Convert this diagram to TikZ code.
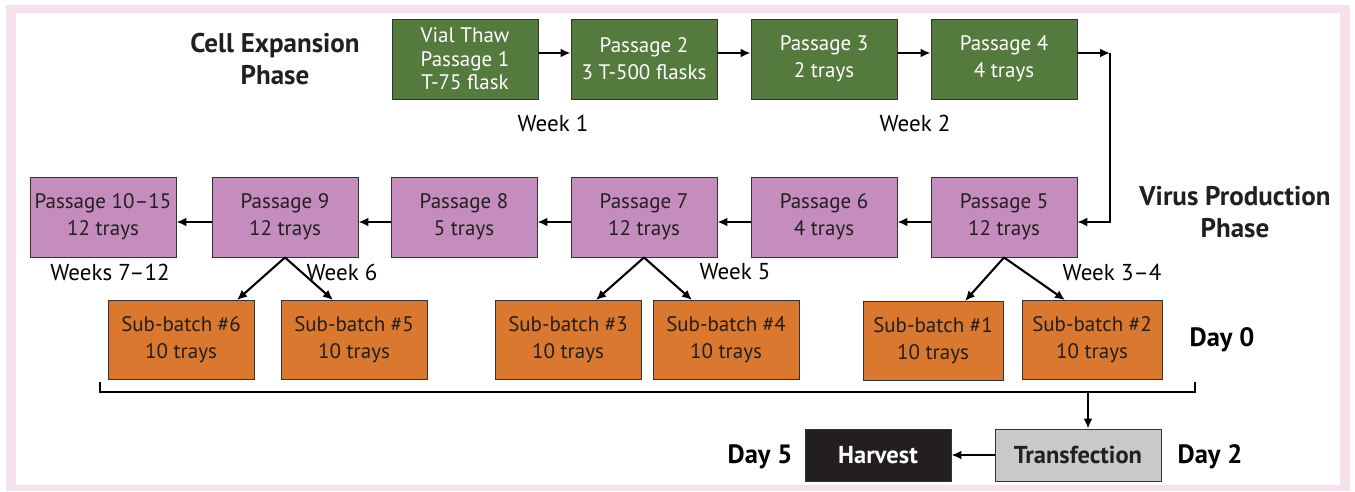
\documentclass[tikz,border=0pt]{standalone}
\usepackage{fontspec}
\setmainfont{PT Sans}
\usetikzlibrary{positioning,arrows.meta}

\definecolor{framepink}{HTML}{F5E1EE}
\definecolor{expgreen}{HTML}{557A3D}
\definecolor{prodpurple}{HTML}{C48DBD}
\definecolor{suborange}{HTML}{D9782E}
\definecolor{transgray}{HTML}{C8C9CB}
\definecolor{harvblack}{HTML}{231F20}

\tikzset{
  box/.style={draw=black!80, line width=0.9pt, inner sep=0pt, align=center,
    minimum width=146pt, minimum height=80pt, text=harvblack,
    font=\fontsize{21}{27}\selectfont},
  greenbox/.style={box, fill=expgreen, text=white},
  purplebox/.style={box, fill=prodpurple},
  orangebox/.style={box, fill=suborange, minimum height=79pt},
  endbox/.style={box, minimum height=52pt, font=\fontsize{24.5}{28}\selectfont\bfseries},
  phase/.style={align=center, text=harvblack, font=\fontsize{27}{32}\selectfont\bfseries},
  weeklabel/.style={text=black, font=\fontsize{23}{26}\selectfont},
  daylabel/.style={text=black, font=\fontsize{26.5}{30}\selectfont\bfseries},
  arr/.style={line width=2.1pt, -{Latex[length=10pt,width=9pt]}},
}

\begin{document}
\begin{tikzpicture}[x=1pt,y=-1pt]
\useasboundingbox (0,0) rectangle (1355,491);
% frame
\fill[framepink] (6,5) rectangle (1350,491);
\fill[white] (16,13) rectangle (1340,485);

% cell expansion phase
\node[phase] (expphase) at (275,59) {Cell Expansion\\Phase};
\node[greenbox, font=\fontsize{21}{23.5}\selectfont] (g1) at (465,59) {Vial Thaw\\Passage 1\\T-75 flask};
\node[greenbox] (g2) at (644,59) {Passage 2\\3 T-500 flasks};
\node[greenbox] (g3) at (824,59) {Passage 3\\2 trays};
\node[greenbox] (g4) at (1004,59) {Passage 4\\4 trays};
\node[weeklabel] (week1) at (553,123) {Week 1};
\node[weeklabel] (week2) at (915,123) {Week 2};

\draw[arr] ([yshift=6pt]g1.east) -- ([yshift=6pt]g2.west);
\draw[arr] ([yshift=6pt]g2.east) -- ([yshift=6pt]g3.west);
\draw[arr] ([yshift=6pt]g3.east) -- ([yshift=6pt]g4.west);

% virus production phase
\node[phase] (virphase) at (1235,212) {Virus Production\\Phase};
\node[purplebox] (p5) at (1004,217) {Passage 5\\12 trays};
\node[purplebox] (p6) at (824,217) {Passage 6\\4 trays};
\node[purplebox] (p7) at (644,217) {Passage 7\\12 trays};
\node[purplebox] (p8) at (464,217) {Passage 8\\5 trays};
\node[purplebox] (p9) at (285,217) {Passage 9\\12 trays};
\node[purplebox] (p10) at (103,217) {Passage 10–15\\12 trays};

\coordinate (turn) at (1110,53);
\draw[arr] ([yshift=6pt]g4.east) -- (turn);
\draw[arr, line width=1.4pt] (turn) |- ([yshift=-5pt]p5.east);
\draw[arr] ([yshift=-5pt]p5.west) -- ([yshift=-5pt]p6.east);
\draw[arr] ([yshift=-5pt]p6.west) -- ([yshift=-5pt]p7.east);
\draw[arr] ([yshift=-5pt]p7.west) -- ([yshift=-5pt]p8.east);
\draw[arr] ([yshift=-5pt]p8.west) -- ([yshift=-5pt]p9.east);
\draw[arr] ([yshift=-5pt]p9.west) -- ([yshift=-5pt]p10.east);

\node[weeklabel] (week712) at (110,272) {Weeks 7–12};
\node[weeklabel] (week6) at (342,272) {Week 6};
\node[weeklabel] (week5) at (735,272) {Week 5};
\node[weeklabel] (week34) at (1112,272) {Week 3–4};

% sub-batches
\node[orangebox] (sb6) at (181,340) {Sub-batch \#6\\10 trays};
\node[orangebox] (sb5) at (354,340) {Sub-batch \#5\\10 trays};
\node[orangebox] (sb3) at (568,340) {Sub-batch \#3\\10 trays};
\node[orangebox] (sb4) at (726,340) {Sub-batch \#4\\10 trays};
\node[orangebox, minimum width=140pt] (sb1) at (933,341) {Sub-batch \#1\\10 trays};
\node[orangebox, minimum width=140pt] (sb2) at (1092,340) {Sub-batch \#2\\10 trays};
\node[daylabel] (day0) at (1222,340) {Day 0};

\draw[arr] (p9.south) -- ([xshift=56pt]sb6.north);
\draw[arr] (p9.south) -- ([xshift=-21pt]sb5.north);
\draw[arr] (p7.south) -- ([xshift=28pt]sb3.north);
\draw[arr] (p7.south) -- ([xshift=-34pt]sb4.north);
\draw[arr] (p5.south) -- ([xshift=32pt]sb1.north);
\draw[arr] (p5.south) -- ([xshift=-27pt]sb2.north);

% bracket
\coordinate (bl) at (100,382);
\coordinate (br) at (1195,382);
\coordinate (bdown) at (1088,392);
\draw[line width=1.5pt] (bl) |- (bdown -| br) -- (br);

% transfection and harvest
\node[endbox, fill=transgray, minimum width=166pt] (trans) at (1078,455) {Transfection};
\node[endbox, fill=harvblack, text=white] (harvest) at (878,455) {Harvest};
\node[daylabel] (day5) at (760,457) {Day 5};
\node[daylabel] (day2) at (1210,457) {Day 2};

\draw[arr] (bdown) -- (bdown |- trans.north);
\draw[arr] (trans) -- (harvest);
\end{tikzpicture}
\end{document}
